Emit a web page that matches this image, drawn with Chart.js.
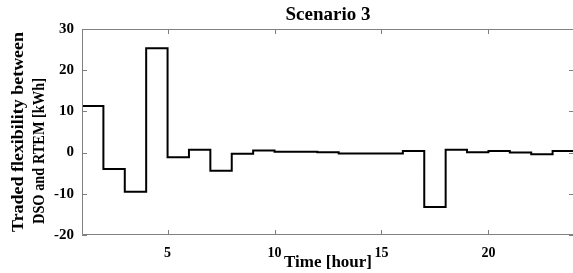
<!DOCTYPE html>
<html>
<head>
<meta charset="utf-8">
<script src="https://cdn.jsdelivr.net/npm/chart.js@4/dist/chart.umd.min.js"></script>
<style>
  html, body { margin: 0; padding: 0; background: #fff; overflow: hidden; }
  #wrap { width: 580px; height: 273px; }
</style>
</head>
<body>
<div id="wrap"><canvas id="c" width="580" height="273"></canvas></div>
<script>
// ---- data ----
const hours = [1, 2, 3, 4, 5, 6, 7, 8, 9, 10, 11, 12, 13, 14, 15, 16, 17, 18, 19, 20, 21, 22, 23, 24];
const flexibility = [11.3, -4.0, -9.5, 25.3, -1.1, 0.7, -4.4, -0.3, 0.5, 0.2, 0.2, 0.1,
                     -0.2, -0.2, -0.2, 0.4, -13.2, 0.7, 0.1, 0.4, 0.0, -0.4, 0.4, 0.4];
const xTickValues = [5, 10, 15, 20];
const yTickValues = [-20, -10, 0, 10, 20, 30];
const titleText = 'Scenario 3';
const xTitle = 'Time [hour]';
const yTitleLines = ['Traded flexibility between', 'DSO and RTEM [kWh]'];

const FONT = '"Liberation Serif", "Times New Roman", serif';

function drawRotated(ctx, text, x, y, targetLen) {
  ctx.save();
  ctx.translate(x, y);
  ctx.rotate(-Math.PI / 2);
  const w = ctx.measureText(text).width;
  ctx.scale(targetLen / w, 1);
  ctx.fillText(text, 0, 0);
  ctx.restore();
}

const framePlugin = {
  id: 'frame',
  afterDatasetsDraw(chart) {
    const {ctx, chartArea: a, scales: {x, y}} = chart;
    ctx.save();
    ctx.strokeStyle = '#808080';
    ctx.lineWidth = 1;
    ctx.beginPath();
    ctx.rect(Math.round(a.left) + 0.5, Math.round(a.top) + 0.5,
             Math.round(a.right - a.left) - 1, Math.round(a.bottom - a.top) - 1);
    const tl = 5;
    xTickValues.forEach(v => {
      const px = Math.round(x.getPixelForValue(v)) + 0.5;
      ctx.moveTo(px, a.bottom); ctx.lineTo(px, a.bottom - tl);
      ctx.moveTo(px, a.top); ctx.lineTo(px, a.top + tl);
    });
    yTickValues.forEach(v => {
      const py = Math.round(y.getPixelForValue(v)) + 0.5;
      ctx.moveTo(a.left, py); ctx.lineTo(a.left + tl, py);
      ctx.moveTo(a.right, py); ctx.lineTo(a.right - tl, py);
    });
    ctx.stroke();
    ctx.restore();

    // y-axis title (two lines, rotated)
    ctx.save();
    ctx.fillStyle = '#000';
    ctx.font = 'bold 16px ' + FONT;
    ctx.textAlign = 'center';
    ctx.textBaseline = 'alphabetic';
    const cy = (a.top + a.bottom) / 2;
    drawRotated(ctx, yTitleLines[0], 22.5, cy, 200);
    drawRotated(ctx, yTitleLines[1], 43.5, cy + 19, 146);
    ctx.restore();
  }
};

new Chart(document.getElementById('c'), {
  type: 'line',
  data: {
    datasets: [{
      data: hours.map((h, i) => ({x: h, y: flexibility[i]})),
      stepped: 'before',
      borderColor: '#000',
      borderWidth: 2,
      pointRadius: 0,
      fill: false,
      tension: 0
    }]
  },
  options: {
    responsive: false,
    animation: false,
    layout: { padding: { left: 0, right: 6, top: 0, bottom: 0 } },
    plugins: {
      legend: { display: false },
      tooltip: { enabled: false },
      title: {
        display: true,
        text: titleText,
        fullSize: false,
        color: '#000',
        font: { family: FONT, size: 19, weight: 'bold' },
        padding: { top: 4, bottom: 2.2 }
      }
    },
    scales: {
      x: {
        type: 'linear',
        min: 1,
        max: 24,
        afterBuildTicks(scale) { scale.ticks = xTickValues.map(v => ({value: v})); },
        afterFit(scale) { scale.height = 38; },
        grid: { display: false, drawTicks: false },
        border: { display: false },
        ticks: {
          color: '#000',
          padding: 10,
          maxRotation: 0,
          font: { family: FONT, size: 14, weight: 'bold' }
        },
        title: {
          display: true,
          text: xTitle,
          color: '#000',
          font: { family: FONT, size: 17, weight: 'bold' },
          padding: { top: 0, bottom: 0.5 }
        }
      },
      y: {
        type: 'linear',
        min: -20,
        max: 30,
        afterBuildTicks(scale) { scale.ticks = yTickValues.map(v => ({value: v})); },
        afterFit(scale) { scale.width = 82; },
        grid: { display: false, drawTicks: false },
        border: { display: false },
        ticks: {
          color: '#000',
          padding: 8,
          font: { family: FONT, size: 15, weight: 'bold' }
        }
      }
    }
  },
  plugins: [framePlugin]
});
</script>
</body>
</html>
